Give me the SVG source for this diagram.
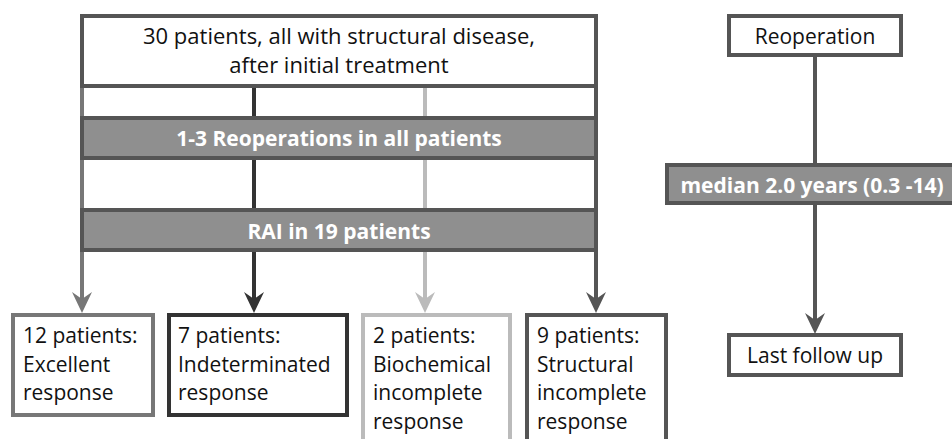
<svg xmlns="http://www.w3.org/2000/svg" width="952" height="439" viewBox="0 0 952 439">
<style>
text{font-family:"Open Sans","Liberation Sans",sans-serif;font-size:21px;fill:#111}
.c{text-anchor:middle}
.t{font-size:22px}
.b{font-weight:bold;fill:#fff}
.box{fill:#fff;stroke-width:4}
.bar{fill:#8f8f8f;stroke:#555;stroke-width:4}
.ln{fill:none;stroke-width:4}
.g1{stroke:#777}.g2{stroke:#333}.g3{stroke:#bbb}.g4{stroke:#555}
.h1{fill:#777}.h2{fill:#333}.h3{fill:#bbb}.h4{fill:#555}
</style>
<defs>
<path id="ah" d="M0,0 L-10,-21 L0,-14 L10,-21 Z"/>
</defs>
<g id="connectors">
<line class="ln g1" x1="82" y1="86" x2="82" y2="300"/>
<use href="#ah" class="h1" x="82" y="313"/>
<line class="ln g2" x1="254" y1="86" x2="254" y2="300"/>
<use href="#ah" class="h2" x="254" y="313"/>
<line class="ln g3" x1="425" y1="86" x2="425" y2="300"/>
<use href="#ah" class="h3" x="425" y="313"/>
<line class="ln g4" x1="596" y1="86" x2="596" y2="300"/>
<use href="#ah" class="h4" x="596" y="313"/>
<line class="ln g4" x1="815" y1="55" x2="815" y2="165"/>
<line class="ln g4" x1="815" y1="203" x2="815" y2="322"/>
<use href="#ah" class="h4" x="815" y="334"/>
</g>
<g id="start">
<rect class="box g4" x="82" y="16" width="514" height="70"/>
<text class="c t" x="339" y="44">30 patients, all with structural disease,</text>
<text class="c t" x="339" y="73">after initial treatment</text>
</g>
<g id="reop-bar">
<rect class="bar" x="82" y="118" width="514" height="40"/>
<text class="c b" x="339" y="146">1-3 Reoperations in all patients</text>
</g>
<g id="rai-bar">
<rect class="bar" x="82" y="210" width="514" height="40"/>
<text class="c b" x="339" y="239">RAI in 19 patients</text>
</g>
<g id="excellent">
<rect class="box g1" x="13" y="315" width="140" height="100"/>
<text x="23" y="343">12 patients:</text>
<text x="23" y="372">Excellent</text>
<text x="23" y="400">response</text>
</g>
<g id="indeterminated">
<rect class="box g2" x="169" y="315" width="178" height="100"/>
<text x="178" y="343">7 patients:</text>
<text x="178" y="372">Indeterminated</text>
<text x="178" y="400">response</text>
</g>
<g id="biochemical">
<rect class="box g3" x="363" y="315" width="147" height="140"/>
<text x="373" y="343">2 patients:</text>
<text x="373" y="372">Biochemical</text>
<text x="373" y="400">incomplete</text>
<text x="373" y="429">response</text>
</g>
<g id="structural">
<rect class="box g4" x="527" y="315" width="139" height="140"/>
<text x="537" y="343">9 patients:</text>
<text x="537" y="372">Structural</text>
<text x="537" y="400">incomplete</text>
<text x="537" y="429">response</text>
</g>
<g id="reoperation">
<rect class="box g4" x="729" y="16" width="172" height="39"/>
<text class="c" x="815" y="44">Reoperation</text>
</g>
<g id="median">
<rect class="bar" x="667" y="165" width="300" height="38"/>
<text class="c b" x="812" y="193">median 2.0 years (0.3 -14)</text>
</g>
<g id="last-follow-up">
<rect class="box g4" x="729" y="335" width="172" height="40"/>
<text class="c" x="815" y="363">Last follow up</text>
</g>
</svg>
